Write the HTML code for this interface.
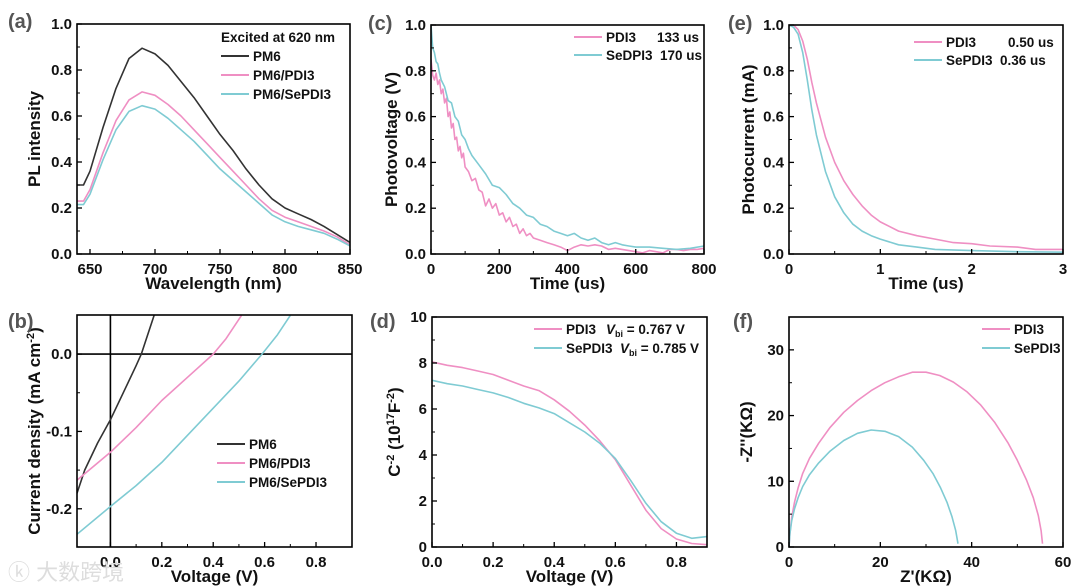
<!DOCTYPE html>
<html><head><meta charset="utf-8">
<style>
html,body{margin:0;padding:0;background:#fff;}
svg{display:block;font-family:"Liberation Sans",Arial,sans-serif;}
.tk{font-size:15px;font-weight:bold;fill:#111;}
.at{font-size:17px;font-weight:bold;fill:#111;}
.pl{font-size:20px;font-weight:bold;fill:#555;}
.lg{font-size:13.5px;font-weight:bold;fill:#111;}
</style></head>
<body>
<svg id="fig" width="1080" height="587" viewBox="0 0 1080 587"></svg>
<script>
// ---- Panel (a) PL ----
const aX=[640,645,650,660,670,680,690,700,710,720,730,740,750,760,770,780,790,800,810,820,830,840,850];
const aPM6=[.30,.30,.36,.55,.72,.85,.895,.87,.82,.75,.68,.60,.52,.45,.37,.30,.24,.20,.175,.15,.12,.085,.05];
const aPDI3=[.23,.23,.28,.44,.58,.67,.705,.69,.65,.60,.54,.48,.42,.36,.30,.24,.19,.16,.14,.12,.10,.075,.04];
const aSePDI3=[.215,.215,.26,.41,.54,.62,.645,.63,.59,.54,.49,.43,.37,.32,.27,.22,.17,.14,.12,.105,.09,.065,.035];
const aXTicks=[650,700,750,800,850];
const aYTicks=[0,0.2,0.4,0.6,0.8,1.0];
// ---- Panel (b) J-V ----
const bPM6X=[-0.13,-0.1,-0.05,0,0.05,0.1,0.12,0.17];
const bPM6Y=[-0.18,-0.15,-0.115,-0.085,-0.05,-0.015,0,0.05];
const bPDI3X=[-0.13,0,0.1,0.2,0.3,0.4,0.45,0.51];
const bPDI3Y=[-0.163,-0.127,-0.095,-0.06,-0.03,0,0.02,0.05];
const bSeX=[-0.13,0,0.1,0.2,0.3,0.4,0.5,0.59,0.65,0.70];
const bSeY=[-0.233,-0.197,-0.17,-0.14,-0.105,-0.07,-0.035,0,0.025,0.05];
const bXTicks=[0,0.2,0.4,0.6,0.8];
const bYTicks=[-0.2,-0.1,0.0];
// ---- Panel (c) TPV ----
const cPX=[0,5,10,15,20,25,30,35,40,45,50,55,60,65,70,75,80,85,90,95,100,110,120,130,140,150,160,170,180,190,200,210,220,230,240,250,260,270,280,290,300,320,340,360,380,400,420,440,460,480,500,520,540,560,580,600,620,640,660,680,700,720,740,760,780,800];
const cPY=[.85,.78,.76,.79,.74,.76,.70,.72,.66,.68,.60,.62,.55,.57,.50,.51,.45,.47,.42,.44,.38,.36,.32,.33,.28,.27,.21,.24,.20,.22,.17,.18,.14,.16,.12,.13,.09,.11,.08,.09,.07,.06,.05,.04,.03,.015,.03,.04,.035,.04,.035,.02,.025,.02,.015,.01,.005,.015,.01,.005,.02,.02,.015,.02,.02,.025];
const cSX=[0,5,10,15,20,25,30,40,50,60,70,80,90,100,110,120,140,160,180,200,220,240,260,280,300,320,340,360,380,400,420,440,460,480,500,520,540,560,580,600,640,680,720,760,800];
const cSY=[1.0,.90,.88,.84,.83,.79,.76,.73,.67,.66,.60,.58,.52,.50,.46,.43,.39,.35,.30,.29,.26,.22,.20,.17,.16,.13,.12,.10,.09,.08,.09,.07,.06,.07,.05,.04,.05,.04,.035,.03,.03,.025,.02,.025,.035];
const cXTicks=[0,200,400,600,800];
const cYTicks=[0,0.2,0.4,0.6,0.8,1.0];
// ---- Panel (d) Mott-Schottky ----
const dX=[0,.05,.1,.15,.2,.25,.3,.35,.4,.45,.5,.55,.6,.65,.7,.75,.8,.85,.9];
const dPDI3=[8.05,7.9,7.8,7.65,7.5,7.25,7.0,6.8,6.4,5.9,5.3,4.6,3.8,2.7,1.6,.8,.35,.15,.1];
const dSePDI3=[7.25,7.1,7.0,6.85,6.7,6.5,6.25,6.05,5.8,5.4,5.0,4.5,3.85,2.9,1.9,1.1,.6,.38,.45];
const dXTicks=[0,0.2,0.4,0.6,0.8];
const dYTicks=[0,2,4,6,8,10];
// ---- Panel (e) TPC ----
const ePX=[0,.05,.1,.15,.2,.25,.3,.4,.5,.6,.7,.8,.9,1.0,1.2,1.4,1.6,1.8,2.0,2.2,2.5,2.7,3.0];
const ePY=[1.0,1.0,.98,.93,.85,.75,.66,.51,.40,.32,.26,.21,.17,.14,.10,.08,.065,.05,.045,.035,.03,.02,.02];
const eSX=[0,.05,.1,.15,.2,.25,.3,.4,.5,.6,.7,.8,.9,1.0,1.2,1.4,1.6,2.0,2.5,3.0];
const eSY=[1.0,.99,.96,.88,.76,.63,.52,.36,.25,.18,.13,.10,.08,.065,.04,.03,.02,.015,.01,.008];
const eXTicks=[0,1,2,3];
const eYTicks=[0,0.2,0.4,0.6,0.8,1.0];
// ---- Panel (f) Nyquist ----
const fPX=[0,0.2,0.6,1.2,2,3,4.5,6.5,9,12,15,18,21,24,27,30,33,36,39,42,45,48,50,52,53.5,54.6,55.2,55.5];
const fPY=[0,2,4.5,6.8,9,11.2,13.5,15.8,18.2,20.5,22.3,23.8,25,25.9,26.6,26.6,26.1,25.1,23.6,21.6,19,15.8,13.2,10.2,7.5,4.8,2.5,0.5];
const fSX=[0,0.2,0.6,1.2,2,3,4.5,6.5,9,12,15,18,21,24,27,29.5,31.5,33.2,34.6,35.7,36.5,37];
const fSY=[0,2,4,5.8,7.5,9.2,11,12.8,14.6,16.2,17.3,17.8,17.6,16.8,15.2,13.2,11.2,9,6.8,4.6,2.5,0.5];
const fXTicks=[0,20,40,60];
const fYTicks=[0,10,20,30];

const NS='http://www.w3.org/2000/svg';
const svg=document.getElementById('fig');
const BLK='#333333',PNK='#ef8fc3',CYN='#7fcbd3';
function el(tag,attrs,parent,text){const e=document.createElementNS(NS,tag);for(const k in attrs)e.setAttribute(k,attrs[k]);if(text!==undefined)e.textContent=text;(parent||svg).appendChild(e);return e;}

function panel(o){
  const g=el('g',{});
  
  
  const sx=v=>o.x0+(v-o.xmin)/(o.xmax-o.xmin)*(o.x1-o.x0);
  const sy=v=>o.y1-(v-o.ymin)/(o.ymax-o.ymin)*(o.y1-o.y0);
  const cid='clip-'+o.name;
  const cp=el('clipPath',{id:cid},g);el('rect',{x:o.x0,y:o.y0,width:o.x1-o.x0,height:o.y1-o.y0},cp);
  (o.extra||[]).forEach(f=>f(g,sx,sy));
  o.series.forEach(s=>{
    const d=s.x.map((v,i)=>(i?'L':'M')+sx(v).toFixed(1)+','+sy(s.y[i]).toFixed(1)).join('');
    const p=el('path',{d:d,fill:'none',stroke:s.c,'stroke-width':1.6,'stroke-linejoin':'round','clip-path':'url(#'+cid+')'},g);
    
    
  });
  const fr=el('rect',{x:o.x0,y:o.y0,width:o.x1-o.x0,height:o.y1-o.y0,fill:'none',stroke:'#000','stroke-width':1.6},g);
  
  
  o.xt.forEach((v,i)=>{
    const X=sx(v);
    el('line',{x1:X,x2:X,y1:o.y1,y2:o.y1-5,stroke:'#000','stroke-width':1.3},g);
    if(i<o.xt.length-1){const m=sx((v+o.xt[i+1])/2);el('line',{x1:m,x2:m,y1:o.y1,y2:o.y1-3,stroke:'#000','stroke-width':1},g);}
    const t=el('text',{x:X,y:o.y1+20,'text-anchor':'middle',class:'tk'},g,o.xf(v));
    
    
  });
  o.yt.forEach((v,i)=>{
    const Y=sy(v);
    el('line',{x1:o.x0,x2:o.x0+5,y1:Y,y2:Y,stroke:'#000','stroke-width':1.3},g);
    if(i<o.yt.length-1){const m=sy((v+o.yt[i+1])/2);el('line',{x1:o.x0,x2:o.x0+3,y1:m,y2:m,stroke:'#000','stroke-width':1},g);}
    const t=el('text',{x:o.x0-5,y:Y+5,'text-anchor':'end',class:'tk'},g,o.yf(v));
    
    
  });
  const xt=el('text',{x:(o.x0+o.x1)/2,y:o.y1+35,'text-anchor':'middle',class:'at'},g);
  xt.innerHTML=o.xtitle;
  
  
  const yt=el('text',{x:0,y:0,'text-anchor':'middle',class:'at',transform:'translate('+o.ytx+','+(o.y0+o.y1)/2+') rotate(-90)'},g);
  yt.innerHTML=o.ytitle;
  
  
  const pl=el('text',{x:o.plx,y:o.ply,class:'pl'},g,o.label);
  
  
  o.legend.forEach((L,i)=>{
    const Y=o.lgy+i*o.lgdy;
    const lg=el('g',{},g);
    
    
    if(L.c) el('line',{x1:o.lgx,x2:o.lgx+28,y1:Y-5,y2:Y-5,stroke:L.c,'stroke-width':2},lg);
    const t=el('text',{x:L.c?o.lgx+32:o.lgx,y:Y,class:'lg'},lg);
    t.innerHTML=L.t;
  });
}
const f1=v=>v.toFixed(1), f0=v=>String(v);

panel({name:'panel-a-pl',x0:77,x1:350,y0:24,y1:254,xmin:640,xmax:850,ymin:0,ymax:1,xt:aXTicks,yt:aYTicks,xf:f0,yf:f1,
 xtitle:'Wavelength (nm)',ytitle:'PL intensity',ytx:40,plx:8,ply:28,label:'(a)',
 series:[{x:aX,y:aPM6,c:BLK,n:'line-pm6'},{x:aX,y:aPDI3,c:PNK,n:'line-pm6-pdi3'},{x:aX,y:aSePDI3,c:CYN,n:'line-pm6-sepdi3'}],
 lgx:221,lgy:42,lgdy:19,legend:[{t:'Excited at 620 nm'},{t:'PM6',c:BLK},{t:'PM6/PDI3',c:PNK},{t:'PM6/SePDI3',c:CYN}]});

panel({name:'panel-b-jv',x0:77,x1:352,y0:315,y1:547,xmin:-0.13,xmax:0.94,ymin:-0.2494,ymax:0.0505,xt:bXTicks,yt:bYTicks,xf:f1,yf:f1,
 xtitle:'Voltage (V)',ytitle:'Current density (mA cm<tspan dy="-6" font-size="11">-2</tspan><tspan dy="6">)</tspan>',ytx:40,plx:8,ply:328,label:'(b)',
 extra:[(g,sx,sy)=>{el('line',{x1:sx(0),x2:sx(0),y1:315,y2:547,stroke:'#000','stroke-width':1.6},g);el('line',{x1:77,x2:352,y1:sy(0),y2:sy(0),stroke:'#000','stroke-width':1.6},g);}],
 series:[{x:bPM6X,y:bPM6Y,c:BLK,n:'line-pm6'},{x:bPDI3X,y:bPDI3Y,c:PNK,n:'line-pm6-pdi3'},{x:bSeX,y:bSeY,c:CYN,n:'line-pm6-sepdi3'}],
 lgx:217,lgy:449,lgdy:19,legend:[{t:'PM6',c:BLK},{t:'PM6/PDI3',c:PNK},{t:'PM6/SePDI3',c:CYN}]});

panel({name:'panel-c-tpv',x0:431,x1:704,y0:25,y1:254,xmin:0,xmax:800,ymin:0,ymax:1,xt:cXTicks,yt:cYTicks,xf:f0,yf:f1,
 xtitle:'Time (us)',ytitle:'Photovoltage (V)',ytx:397,plx:368,ply:30,label:'(c)',
 series:[{x:cPX,y:cPY,c:PNK,n:'line-pdi3'},{x:cSX,y:cSY,c:CYN,n:'line-sedpi3'}],
 lgx:574,lgy:42,lgdy:18,legend:[{t:'PDI3 <tspan x="657">133 us</tspan>',c:PNK},{t:'SeDPI3&#160; 170 us',c:CYN}]});

panel({name:'panel-d-mott-schottky',x0:432,x1:707,y0:317,y1:547,xmin:0,xmax:0.9,ymin:0,ymax:10,xt:dXTicks,yt:dYTicks,xf:f1,yf:f0,
 xtitle:'Voltage (V)',ytitle:'C<tspan dy="-6" font-size="11">-2</tspan><tspan dy="6"> (10</tspan><tspan dy="-6" font-size="11">17</tspan><tspan dy="6">F</tspan><tspan dy="-6" font-size="11">-2</tspan><tspan dy="6">)</tspan>',ytx:400,plx:370,ply:328,label:'(d)',
 series:[{x:dX,y:dPDI3,c:PNK,n:'line-pdi3'},{x:dX,y:dSePDI3,c:CYN,n:'line-sepdi3'}],
 lgx:534,lgy:334,lgdy:19,legend:[{t:'PDI3 <tspan x="606" font-style="italic">V</tspan><tspan dy="3" font-size="9">bi</tspan><tspan dy="-3"> = 0.767 V</tspan>',c:PNK},{t:'SePDI3&#160; <tspan font-style="italic">V</tspan><tspan dy="3" font-size="9">bi</tspan><tspan dy="-3"> = 0.785 V</tspan>',c:CYN}]});

panel({name:'panel-e-tpc',x0:789,x1:1063,y0:25,y1:254,xmin:0,xmax:3,ymin:0,ymax:1,xt:eXTicks,yt:eYTicks,xf:f0,yf:f1,
 xtitle:'Time (us)',ytitle:'Photocurrent (mA)',ytx:754,plx:728,ply:30,label:'(e)',
 series:[{x:ePX,y:ePY,c:PNK,n:'line-pdi3'},{x:eSX,y:eSY,c:CYN,n:'line-sepdi3'}],
 lgx:914,lgy:47,lgdy:18,legend:[{t:'PDI3 <tspan x="1008">0.50 us</tspan>',c:PNK},{t:'SePDI3&#160; 0.36 us',c:CYN}]});

panel({name:'panel-f-nyquist',x0:789,x1:1063,y0:317,y1:547,xmin:0,xmax:60,ymin:0,ymax:35,xt:fXTicks,yt:fYTicks,xf:f0,yf:f0,
 xtitle:"Z'(K&#937;)",ytitle:"-Z''(K&#937;)",ytx:752,plx:733,ply:328,label:'(f)',
 series:[{x:fPX,y:fPY,c:PNK,n:'line-pdi3'},{x:fSX,y:fSY,c:CYN,n:'line-sepdi3'}],
 lgx:982,lgy:334,lgdy:19,legend:[{t:'PDI3',c:PNK},{t:'SePDI3',c:CYN}]});

const wm=el('text',{x:8,y:580,'font-size':'22','font-family':'"Liberation Sans","Noto Sans CJK SC",sans-serif',fill:'#ddd'},svg,'\u24DA\u00A0大数跨境');


</script>
</body></html>
